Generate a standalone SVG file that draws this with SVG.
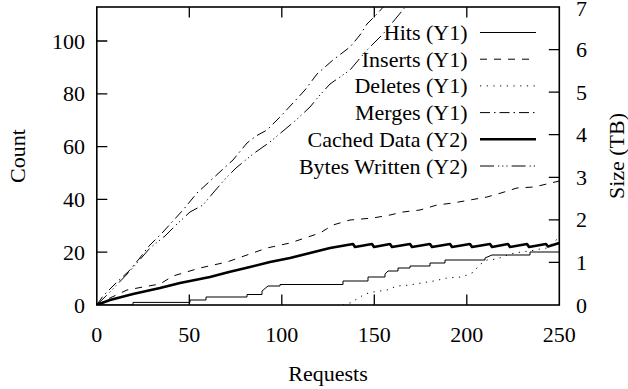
<svg xmlns="http://www.w3.org/2000/svg" width="628" height="389" viewBox="0 0 628 389" font-family="'Liberation Serif', 'DejaVu Serif', serif">
<style>
text{font-family:'Liberation Serif','DejaVu Serif',serif;font-size:22px;fill:#000}
.tk{stroke:#000;stroke-width:1.3;fill:none}
.c{fill:none;stroke:#000;stroke-width:1;stroke-linejoin:round}
.ins{stroke-dasharray:7,7}
.del{stroke-dasharray:1.2,5.5}
.mer{stroke-dasharray:10,4,1.5,4}
.cach{stroke-width:2.6}
.byt{stroke-dasharray:14,4,1.2,3,1.2,3,1.2,4}
.r{text-anchor:end}
.m{text-anchor:middle}
</style>
<defs>
<clipPath id="plot"><rect x="96.8" y="7" width="462.5" height="298"/></clipPath>
</defs>
<rect width="628" height="389" fill="#fff"/>
<g id="axes">
<rect x="96.8" y="7" width="462.5" height="298" fill="none" stroke="#000" stroke-width="1.6"/>
<path class="tk" d="M96.8,252.2h10.5M96.8,199.4h10.5M96.8,146.6h10.5M96.8,93.8h10.5M96.8,41h10.5"/>
<path class="tk" d="M559.3,262.4h-10.5M559.3,219.9h-10.5M559.3,177.3h-10.5M559.3,134.7h-10.5M559.3,92.1h-10.5M559.3,49.6h-10.5"/>
<path class="tk" d="M189.3,305v-10.5M281.8,305v-10.5M374.3,305v-10.5M466.8,305v-10.5M189.3,7v10.5M281.8,7v10.5M374.3,7v10.5M466.8,7v10.5"/>
</g>
<g id="y1-labels">
<text class="r" x="85" y="312.5">0</text>
<text class="r" x="85" y="259.7">20</text>
<text class="r" x="85" y="206.9">40</text>
<text class="r" x="85" y="154.1">60</text>
<text class="r" x="85" y="101.3">80</text>
<text class="r" x="85" y="48.5">100</text>
</g>
<g id="y2-labels">
<text x="576" y="312.5">0</text>
<text x="576" y="269.9">1</text>
<text x="576" y="227.4">2</text>
<text x="576" y="184.8">3</text>
<text x="576" y="142.2">4</text>
<text x="576" y="99.6">5</text>
<text x="576" y="57.1">6</text>
<text x="576" y="15.8">7</text>
</g>
<g id="x-labels">
<text class="m" x="96.8" y="341.5">0</text>
<text class="m" x="189.3" y="341.5">50</text>
<text class="m" x="281.8" y="341.5">100</text>
<text class="m" x="374.3" y="341.5">150</text>
<text class="m" x="466.8" y="341.5">200</text>
<text class="m" x="559.3" y="341.5">250</text>
</g>
<g id="titles">
<text class="m" x="328" y="381">Requests</text>
<text class="m" transform="translate(25,156) rotate(-90)">Count</text>
<text class="m" transform="translate(624,156) rotate(-90)">Size (TB)</text>
</g>
<g id="connectors" clip-path="url(#plot)">
<path id="hits" class="c" d="M96.8,305 H133 V302.4 H190 V300 H206 V297 H247 V294.5 H262 V291 L268,286 H280 V284.5 H343 V281 H368 V277 H385 V274 L388,271 H398 V268 H410 V266 H430 V263 H445 V260 H485 V258 L492,255 H530 V252 H559.3"/>
<path id="inserts" class="c ins" d="M96.8,305 L110,298 L127,290 L143,287 L160,284 L173,276 L200,268 L227,262 L247,255 L267,248 L290,243 L305,238 L320,233 L333,225 L350,220 L373,218 L390,215 L403,212 L420,210 L437,205 L453,203 L470,200 L487,197 L501,193 L517,188 L534,187 L551,183 L559.3,181"/>
<path id="deletes" class="c del" d="M343,305 L350,303 L357,299 L365,294 L373,292 L387,290 L397,286 L410,285 L421,283 L434,281 L447,278 L461,277 L467,275 L474,272 L479,265 L487,260 L497,259 L510,254 L521,252 L530,251 L540,249 L547,248 L552,244 L556,240 L559.3,238"/>
<path id="merges" class="c mer" d="M96.8,305 L103,296 L116,283 L129,271 L139,259 L149,246 L163,232 L173,221 L183,210 L197,193 L209,182 L222,170 L233,160 L247,143 L256,136 L267,130 L280,117 L293,103 L305,90 L317,74 L333,60 L350,47 L360,35 L367,24 L377,14 L385,5"/>
<path id="cached" class="c cach" d="M96.8,305 L110,300 L133,294 L160,288 L180,283 L210,277 L229,272 L250,267 L270,262 L290,258 L310,253 L330,248 L353,244 L355,247 L372,244 L374,247 L390,244 L392,247 L410,244 L412,247 L430,244 L432,247 L450,244 L452,247 L470,244 L472,247 L490,244 L492,247 L508,244 L510,247 L527,244 L529,247 L546,244 L548,246.5 L559.3,243"/>
<path id="bytes" class="c byt" d="M96.8,305 L110,292 L130,271 L150,248 L165,236 L176,225 L190,212 L203,205 L213,193 L226,178 L236,168 L253,154 L270,142 L283,131 L295,121 L310,107 L320,95 L330,84 L350,70 L367,50 L383,34 L397,17 L407,5"/>
</g>
<g id="legend">
<g id="leg-hits"><text class="r" x="467.5" y="40">Hits (Y1)</text><path class="c" d="M480,32.5H536"/></g>
<g id="leg-inserts"><text class="r" x="467.5" y="66.7">Inserts (Y1)</text><path class="c ins" d="M480,59.2H536"/></g>
<g id="leg-deletes"><text class="r" x="467.5" y="93.4">Deletes (Y1)</text><path class="c del" d="M480,85.9H536"/></g>
<g id="leg-merges"><text class="r" x="467.5" y="120.1">Merges (Y1)</text><path class="c mer" d="M480,112.6H536"/></g>
<g id="leg-cached"><text class="r" x="467.5" y="146.8">Cached Data (Y2)</text><path class="c cach" d="M480,139.3H536"/></g>
<g id="leg-bytes"><text class="r" x="467.5" y="173.5">Bytes Written (Y2)</text><path class="c byt" d="M480,166H536"/></g>
</g>
</svg>
